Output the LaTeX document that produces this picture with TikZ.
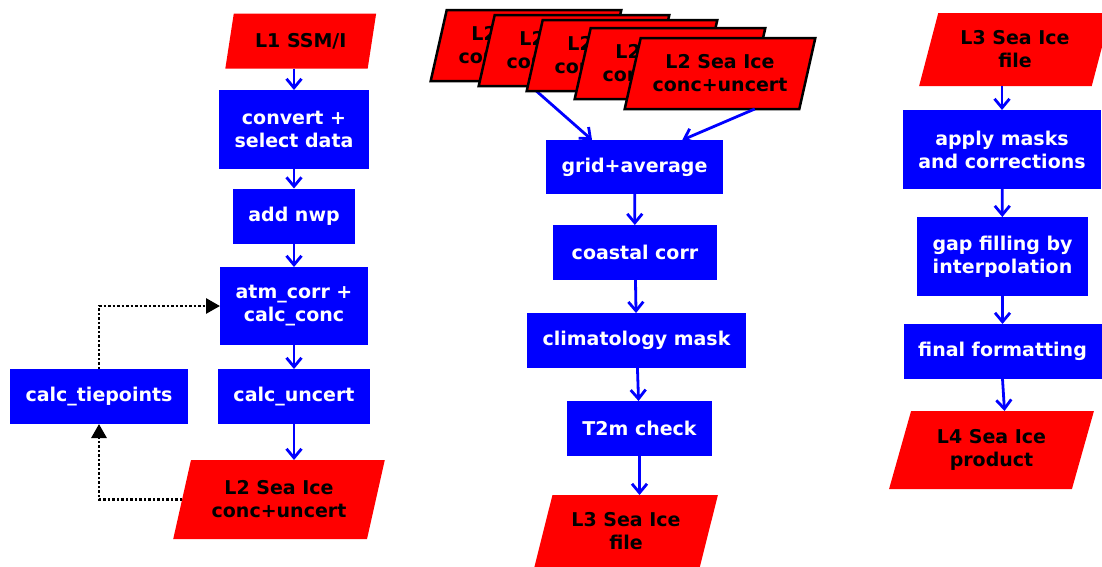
\documentclass[tikz,border=0pt]{standalone}
\usepackage{fontspec}
\setmainfont{DejaVu Sans}
\usetikzlibrary{shapes.geometric,arrows.meta,calc}
\definecolor{pblue}{RGB}{0,0,255}
\definecolor{pred}{RGB}{255,0,0}
\begin{document}
\begin{tikzpicture}[x=1pt,y=-1pt,
  every node/.style={font=\fontsize{19}{23}\selectfont\bfseries, align=center, inner sep=0pt, outer sep=0pt},
  proc/.style={fill=pblue, text=white, minimum width=#1},
  proc/.default=150,
  h55/.style={minimum height=55},
  h79/.style={minimum height=79},
  data/.style={trapezium, trapezium left angle=70, trapezium right angle=110, trapezium stretches=true, fill=pred, text=black},
  stackbox/.style={data, draw=black, line width=2.5pt, minimum width=191, minimum height=71},
  flow/.style={draw=pblue, line width=2.8pt, -{Straight Barb[length=9pt,width=15pt]}},
  loop/.style={draw=black, line width=2.8pt, dash pattern=on 2.5pt off 2pt, -{Triangle[length=14pt,width=15pt,sep=0pt]}}
]
\useasboundingbox (0,0) rectangle (1102,566);

% ---------- left column ----------
\node[data, minimum width=151, minimum height=55] (l1) at (300.75,41) {L1 SSM/I};
\node[proc=150, h79] (conv) at (294,129.5) {convert +\\select data};
\node[proc=122, h55] (nwp) at (294,216) {add nwp};
\node[proc=148, minimum height=78] (atm) at (294,306) {atm\_corr +\\calc\_conc};
\node[proc=152, h55] (unc) at (294,396.5) {calc\_uncert};
\node[proc=178, h55] (tie) at (99,396.5) {calc\_tiepoints};
\node[data, minimum width=212, minimum height=79] (l2) at (279,499.5) {L2 Sea Ice\\conc+uncert};

\draw[flow] (conv.north |- l1.south) -- (conv.north);
\draw[flow] (conv) -- (nwp);
\draw[flow] (nwp) -- (atm);
\draw[flow] (atm) -- (unc);
\draw[flow] (unc.south) -- (unc.south |- l2.north);
\draw[loop] (l2.west) -| (tie.south);
\draw[loop] (tie.north) |- (atm.west);

% ---------- middle column ----------
\node[proc=177, minimum height=54] (grid) at (634.5,167) {grid+average};
\node[stackbox] (s1) at (526,45.5) {L2 Sea Ice\\conc+uncert};
\draw[flow] ($(s1.bottom left corner)!0.54!(s1.bottom right corner)$) -- ($(grid.north west)!0.26!(grid.north east)$);
\node[stackbox] (s2) at (574,50.5) {L2 Sea Ice\\conc+uncert};
\node[stackbox] (s3) at (622,55.5) {L2 Sea Ice\\conc+uncert};
\node[stackbox] (s4) at (670,63.5) {L2 Sea Ice\\conc+uncert};
\node[stackbox] (s5) at (720,73.5) {L2 Sea Ice\\conc+uncert};
\draw[flow] ($(s5.bottom left corner)!0.745!(s5.bottom right corner)$) -- ($(grid.north west)!0.77!(grid.north east)$);

\node[proc=164, h55] (coast) at (635,252.5) {coastal corr};
\node[proc=219, h55] (clim) at (636.5,340.5) {climatology mask};
\node[proc=145, h55] (t2m) at (639.5,428.5) {T2m check};
\node[data, minimum width=184, minimum height=73] (l3m) at (626,531.5) {L3 Sea Ice\\file};

\draw[flow] (grid) -- (coast);
\draw[flow] (coast) -- (clim);
\draw[flow] (clim) -- (t2m);
\draw[flow] (t2m.south) -- (t2m.south |- l3m.north);

% ---------- right column ----------
\node[data, minimum width=192, minimum height=73] (l3r) at (1015,49.5) {L3 Sea Ice\\file};
\node[proc=198, h79] (app) at (1002,149.5) {apply masks\\and corrections};
\node[proc=171, h79] (gap) at (1002.5,256.5) {gap filling by\\interpolation};
\node[proc=198, h55] (fin) at (1002.5,351.5) {final formatting};
\node[data, minimum width=205, minimum height=78] (l4) at (991.5,450) {L4 Sea Ice\\product};

\draw[flow] (app.north |- l3r.south) -- (app.north);
\draw[flow] (app) -- (gap);
\draw[flow] (gap) -- (fin);
\draw[flow] (fin.south) -- ($(fin.south |- l4.north)+(2,0)$);
\end{tikzpicture}
\end{document}
